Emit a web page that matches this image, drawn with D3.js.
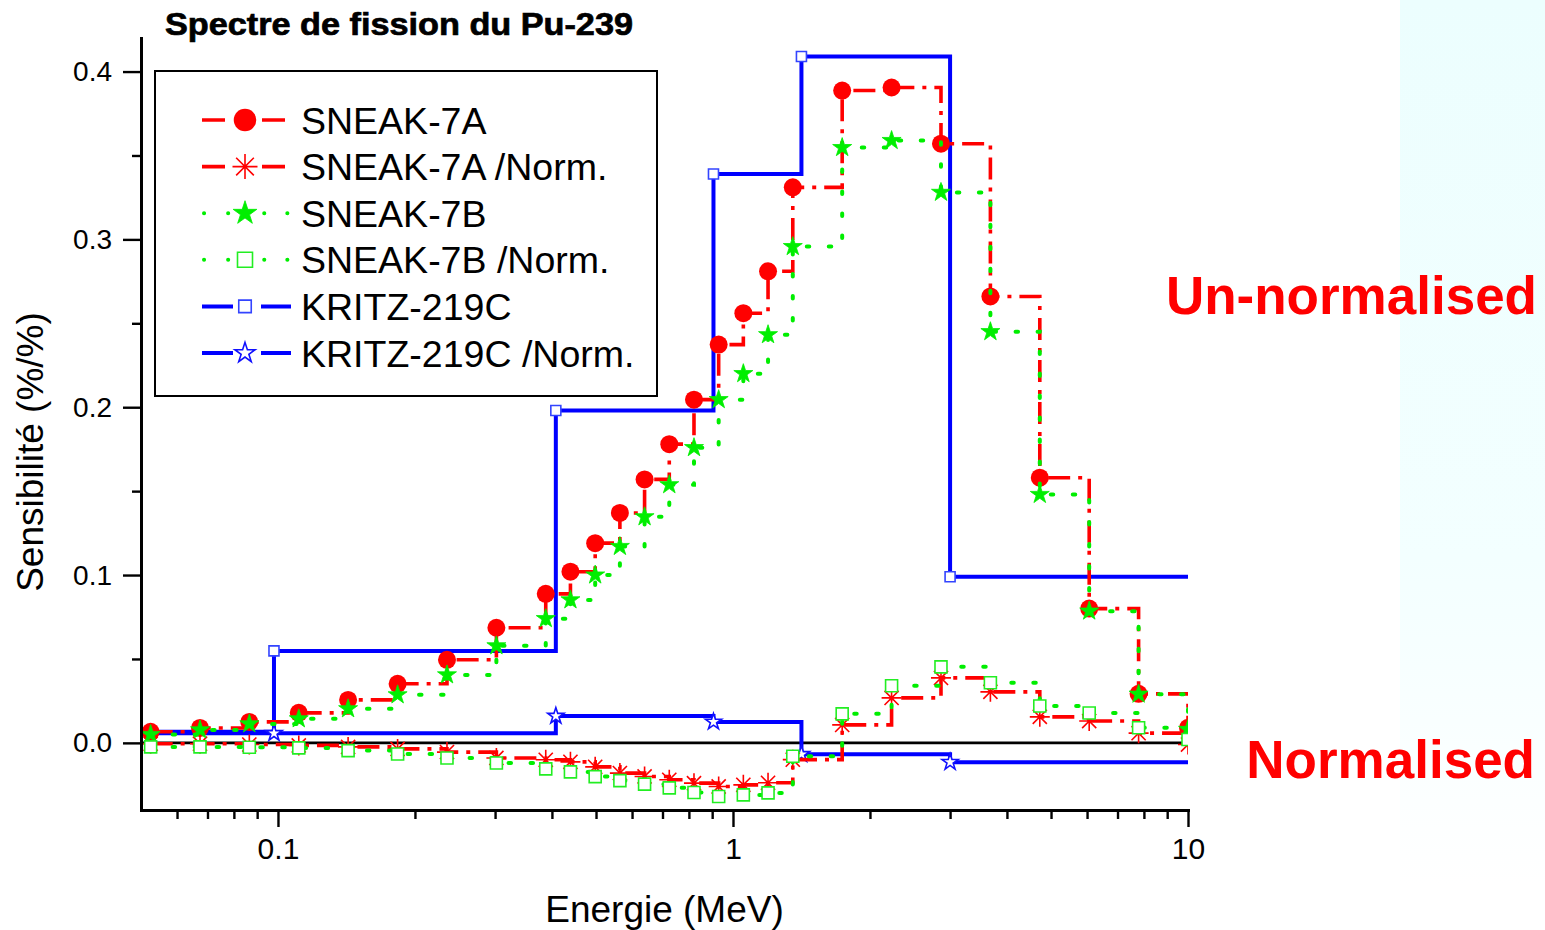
<!DOCTYPE html>
<html>
<head>
<meta charset="utf-8">
<title>Spectre de fission du Pu-239</title>
<script src="https://cdn.jsdelivr.net/npm/d3@7"></script>
<style>
  html, body { margin: 0; padding: 0; background: #ffffff; }
  svg { display: block; font-family: "Liberation Sans", Arial, Helvetica, sans-serif; }
</style>
</head>
<body>
<svg id="chart" width="1545" height="930"></svg>
<script>
// Energy group boundaries (MeV) shared by the SNEAK series
const energies = [0.0525, 0.0674, 0.0865, 0.1111, 0.1426, 0.1832, 0.2352, 0.3020, 0.3877,
  0.4393, 0.4979, 0.5642, 0.6393, 0.7244, 0.8209, 0.9301, 1.0538, 1.1941, 1.3534,
  1.7377, 2.2313, 2.8650, 3.6788, 4.7237, 6.0653, 7.7880, 10.0];

// Sensitivities (%/%)
const sneak7A = [0.0066, 0.0089, 0.0125, 0.0179, 0.0256, 0.0352, 0.0495, 0.0686, 0.0888,
  0.1020, 0.1190, 0.1370, 0.1570, 0.1780, 0.2045, 0.2373, 0.2560, 0.2810, 0.3310,
  0.3887, 0.3905, 0.3570, 0.2660, 0.1580, 0.0800, 0.0292, 0.0090];
const sneak7ANorm = [-0.0005, -0.0005, -0.0010, -0.0015, -0.0024, -0.0036, -0.0055, -0.0090, -0.0101,
  -0.0113, -0.0143, -0.0180, -0.0200, -0.0220, -0.0240, -0.0260, -0.0250, -0.0238, -0.0100,
  0.0107, 0.0268, 0.0387, 0.0304, 0.0155, 0.0130, 0.0058, -0.0010];
const sneak7B = [0.0050, 0.0077, 0.0113, 0.0143, 0.0203, 0.0286, 0.0405, 0.0578, 0.0740,
  0.0852, 0.1000, 0.1170, 0.1347, 0.1538, 0.1759, 0.2045, 0.2200, 0.2432, 0.2957,
  0.3547, 0.3589, 0.3280, 0.2450, 0.1480, 0.0785, 0.0290, 0.0080];
const sneak7BNorm = [-0.0024, -0.0024, -0.0026, -0.0030, -0.0046, -0.0066, -0.0090, -0.0120, -0.0155,
  -0.0173, -0.0201, -0.0225, -0.0246, -0.0268, -0.0296, -0.0320, -0.0310, -0.0298, -0.0080,
  0.0173, 0.0340, 0.0453, 0.0358, 0.0220, 0.0178, 0.0090, 0.0020];

// KRITZ-219C uses a coarser group structure; the first and last entries close the steps at the axis limits
const kritzEnergies = [0.05, 0.098, 0.408, 0.906, 1.414, 3.0, 10.0];
const kritz219C = [0.0066, 0.0548, 0.1980, 0.3390, 0.4090, 0.0990, 0.0990];
const kritz219CNorm = [0.0057, 0.0057, 0.0160, 0.0125, -0.0068, -0.0115, -0.0115];

const seriesNames = ["SNEAK-7A", "SNEAK-7A /Norm.", "SNEAK-7B", "SNEAK-7B /Norm.", "KRITZ-219C", "KRITZ-219C /Norm."];
const xMajorTicks = [0.1, 1, 10];
const yMajorTicks = [0.0, 0.1, 0.2, 0.3, 0.4];
const yMinorTicks = [0.05, 0.15, 0.25, 0.35];

const titleText = "Spectre de fission du Pu-239";
const xTitle = "Energie (MeV)";
const yTitle = "Sensibilité (%/%)";
const noteUnnorm = "Un-normalised";
const noteNorm = "Normalised";

// ---------------------------------------------------------------
const svg = d3.select("#chart");
const defs = svg.append("defs");

// faint azure panel at the right edge of the slide
const grad = defs.append("linearGradient").attr("id", "sideGlow")
  .attr("x1", 0).attr("y1", 0).attr("x2", 0).attr("y2", 1);
grad.append("stop").attr("offset", "0").attr("stop-color", "#ecfefe");
grad.append("stop").attr("offset", "0.6").attr("stop-color", "#f3ffff");
grad.append("stop").attr("offset", "0.95").attr("stop-color", "#ffffff");
svg.append("rect").attr("x", 1400).attr("y", 0).attr("width", 145).attr("height", 930)
  .attr("fill", "url(#sideGlow)");

const x = d3.scaleLog().domain([0.05, 10]).range([141, 1188]);
const y = d3.scaleLinear().domain([-0.04, 0.42]).range([810, 38]);

defs.append("clipPath").attr("id", "plotClip")
  .append("rect").attr("x", x.range()[0]).attr("y", 20)
  .attr("width", x.range()[1] - x.range()[0]).attr("height", y.range()[0] - 20);

// marker shapes
function starPath(R) {
  const r = R * 0.382, pts = [];
  for (let i = 0; i < 10; i++) {
    const a = -Math.PI / 2 + i * Math.PI / 5;
    const rad = i % 2 === 0 ? R : r;
    pts.push([rad * Math.cos(a), rad * Math.sin(a)]);
  }
  return "M" + pts.map(p => p[0].toFixed(2) + "," + p[1].toFixed(2)).join("L") + "Z";
}
function asteriskPath(R) {
  let d = "";
  for (let i = 0; i < 4; i++) {
    const a = i * Math.PI / 4;
    const dx = R * Math.cos(a), dy = R * Math.sin(a);
    d += `M${(-dx).toFixed(2)},${(-dy).toFixed(2)}L${dx.toFixed(2)},${dy.toFixed(2)}`;
  }
  return d;
}
const markers = {
  circle: { d: d3.symbol(d3.symbolCircle, Math.PI * 81)(), fill: "#ff0000", stroke: "none", sw: 0 },
  asterisk: { d: asteriskPath(10), fill: "none", stroke: "#ff0000", sw: 1.6 },
  starFilled: { d: starPath(10), fill: "#00ee00", stroke: "#00ee00", sw: 0.8 },
  squareGreen: { d: "M-6,-6H6V6H-6Z", fill: "#ffffff", stroke: "#22ee22", sw: 1.6 },
  squareBlue: { d: "M-5,-5H5V5H-5Z", fill: "#ffffff", stroke: "#3344ff", sw: 1.6 },
  starOpen: { d: starPath(8.5), fill: "#ffffff", stroke: "#1010ff", sw: 1.6 }
};

const RED = "#ff0000", GREEN = "#00ee00", BLUE = "#0000ff";
const styles = [
  { color: RED, width: 3.6, dash: "22,8,4,8", cap: "butt", marker: "circle", legendDash: "23,37,23" },
  { color: RED, width: 3.6, dash: "22,8,4,8", cap: "butt", marker: "asterisk", legendDash: "23,37,23" },
  { color: GREEN, width: 4, dash: "2.5,19.5", cap: "round", marker: "starFilled", legendDash: "0.1,24,0.1,36,0.1,23" },
  { color: GREEN, width: 4, dash: "2.5,19.5", cap: "round", marker: "squareGreen", legendDash: "0.1,24,0.1,36,0.1,23" },
  { color: BLUE, width: 4, dash: null, cap: "butt", marker: "squareBlue", legendDash: "31,28,30" },
  { color: BLUE, width: 4, dash: null, cap: "butt", marker: "starOpen", legendDash: "31,28,30" }
];

const series = [
  { e: energies, v: sneak7A, first: 0, last: energies.length - 1 },
  { e: energies, v: sneak7ANorm, first: 0, last: energies.length - 1 },
  { e: energies, v: sneak7B, first: 0, last: energies.length - 1 },
  { e: energies, v: sneak7BNorm, first: 0, last: energies.length - 1 },
  { e: kritzEnergies, v: kritz219C, first: 1, last: kritzEnergies.length - 2 },
  { e: kritzEnergies, v: kritz219CNorm, first: 1, last: kritzEnergies.length - 2 }
];

// ---------------- zero reference line ----------------
svg.append("line")
  .attr("x1", x.range()[0]).attr("x2", x.range()[1])
  .attr("y1", y(0)).attr("y2", y(0))
  .attr("stroke", "#000").attr("stroke-width", 2.6);

// ---------------- data ----------------
const plot = svg.append("g").attr("clip-path", "url(#plotClip)");
const stepLine = d3.line().x(d => x(d[0])).y(d => y(d[1])).curve(d3.curveStepAfter);

// KRITZ drawn underneath, SNEAK series on top
const drawOrder = [4, 5, 0, 1, 2, 3];
drawOrder.forEach(i => {
  const s = series[i], st = styles[i];
  const pts = s.e.map((e, k) => [e, s.v[k]]);
  const g = plot.append("g");
  g.append("path")
    .attr("d", stepLine(pts))
    .attr("fill", "none")
    .attr("stroke", st.color)
    .attr("stroke-width", st.width)
    .attr("stroke-linecap", st.cap)
    .attr("stroke-linejoin", "miter")
    .attr("stroke-dasharray", st.dash);
  const m = markers[st.marker];
  g.selectAll("path.mk")
    .data(pts.filter((p, k) => k >= s.first && k <= s.last))
    .join("path")
    .attr("class", "mk")
    .attr("d", m.d)
    .attr("transform", d => `translate(${x(d[0])},${y(d[1])})`)
    .attr("fill", m.fill)
    .attr("stroke", m.stroke)
    .attr("stroke-width", m.sw);
});

// ---------------- axes ----------------
const axisFont = 28;
const yAxis = svg.append("g").attr("transform", `translate(${x.range()[0]},0)`)
  .call(d3.axisLeft(y).tickValues(yMajorTicks).tickFormat(d3.format(".1f"))
    .tickSize(18).tickSizeOuter(0).tickPadding(11));
svg.append("g").attr("transform", `translate(${x.range()[0]},0)`)
  .call(d3.axisLeft(y).tickValues(yMinorTicks).tickFormat("").tickSize(9).tickSizeOuter(0))
  .call(g => g.select(".domain").remove());

const xMinor = x.ticks().filter(t => !xMajorTicks.some(m => Math.abs(m - t) < 1e-9) && t > 0.05 + 1e-9);
const xAxis = svg.append("g").attr("transform", `translate(0,${y.range()[0]})`)
  .call(d3.axisBottom(x).tickValues(xMajorTicks).tickFormat(d3.format("~g"))
    .tickSize(17).tickSizeOuter(0).tickPadding(11));
svg.append("g").attr("transform", `translate(0,${y.range()[0]})`)
  .call(d3.axisBottom(x).tickValues(xMinor).tickFormat("").tickSize(9).tickSizeOuter(0))
  .call(g => g.select(".domain").remove());

svg.selectAll(".domain").attr("stroke", "#000").attr("stroke-width", 3).attr("stroke-linecap", "square");
svg.selectAll(".tick line").attr("stroke", "#000").attr("stroke-width", 2.4);
svg.selectAll(".tick text").attr("fill", "#000")
  .style("font-family", "'Liberation Sans', Arial, sans-serif")
  .style("font-size", axisFont + "px");
xAxis.selectAll(".tick text").style("font-size", "30px");

// axis titles
svg.append("text")
  .attr("x", (x.range()[0] + x.range()[1]) / 2).attr("y", 922)
  .attr("text-anchor", "middle").attr("font-size", 37).attr("fill", "#000")
  .text(xTitle);
svg.append("text")
  .attr("transform", "translate(43,452) rotate(-90)")
  .attr("text-anchor", "middle").attr("font-size", 37).attr("fill", "#000")
  .text(yTitle);

// chart title
svg.append("text")
  .attr("x", 165).attr("y", 35)
  .attr("font-size", 31).attr("font-weight", "bold")
  .attr("fill", "#000").attr("stroke", "#000").attr("stroke-width", 0.7)
  .attr("textLength", 468).attr("lengthAdjust", "spacingAndGlyphs")
  .text(titleText);

// ---------------- legend ----------------
const legend = svg.append("g");
legend.append("rect")
  .attr("x", 155).attr("y", 71).attr("width", 502).attr("height", 325)
  .attr("fill", "#fff").attr("stroke", "#000").attr("stroke-width", 2);
seriesNames.forEach((name, i) => {
  const st = styles[i], cy = 120 + i * 46.6;
  const span = st.color === BLUE ? [202, 291] : (st.color === GREEN ? [204, 288] : [202, 285]);
  legend.append("line")
    .attr("x1", span[0]).attr("x2", span[1]).attr("y1", cy).attr("y2", cy)
    .attr("stroke", st.color).attr("stroke-width", st.width)
    .attr("stroke-linecap", st.cap).attr("stroke-dasharray", st.legendDash);
  const m = markers[st.marker];
  legend.append("path").attr("d", m.d)
    .attr("transform", `translate(245,${cy}) scale(1.25)`)
    .attr("fill", m.fill).attr("stroke", m.stroke).attr("stroke-width", m.sw / 1.25);
  legend.append("text")
    .attr("x", 301).attr("y", cy + 13.5)
    .attr("font-size", 37.5).attr("fill", "#000")
    .text(name);
});

// ---------------- annotations ----------------
svg.append("text")
  .attr("x", 1537).attr("y", 314).attr("text-anchor", "end")
  .attr("font-size", 53).attr("font-weight", "bold").attr("fill", "#ff0000")
  .text(noteUnnorm);
svg.append("text")
  .attr("x", 1535).attr("y", 778).attr("text-anchor", "end")
  .attr("font-size", 53).attr("font-weight", "bold").attr("fill", "#ff0000")
  .text(noteNorm);
</script>
</body>
</html>
